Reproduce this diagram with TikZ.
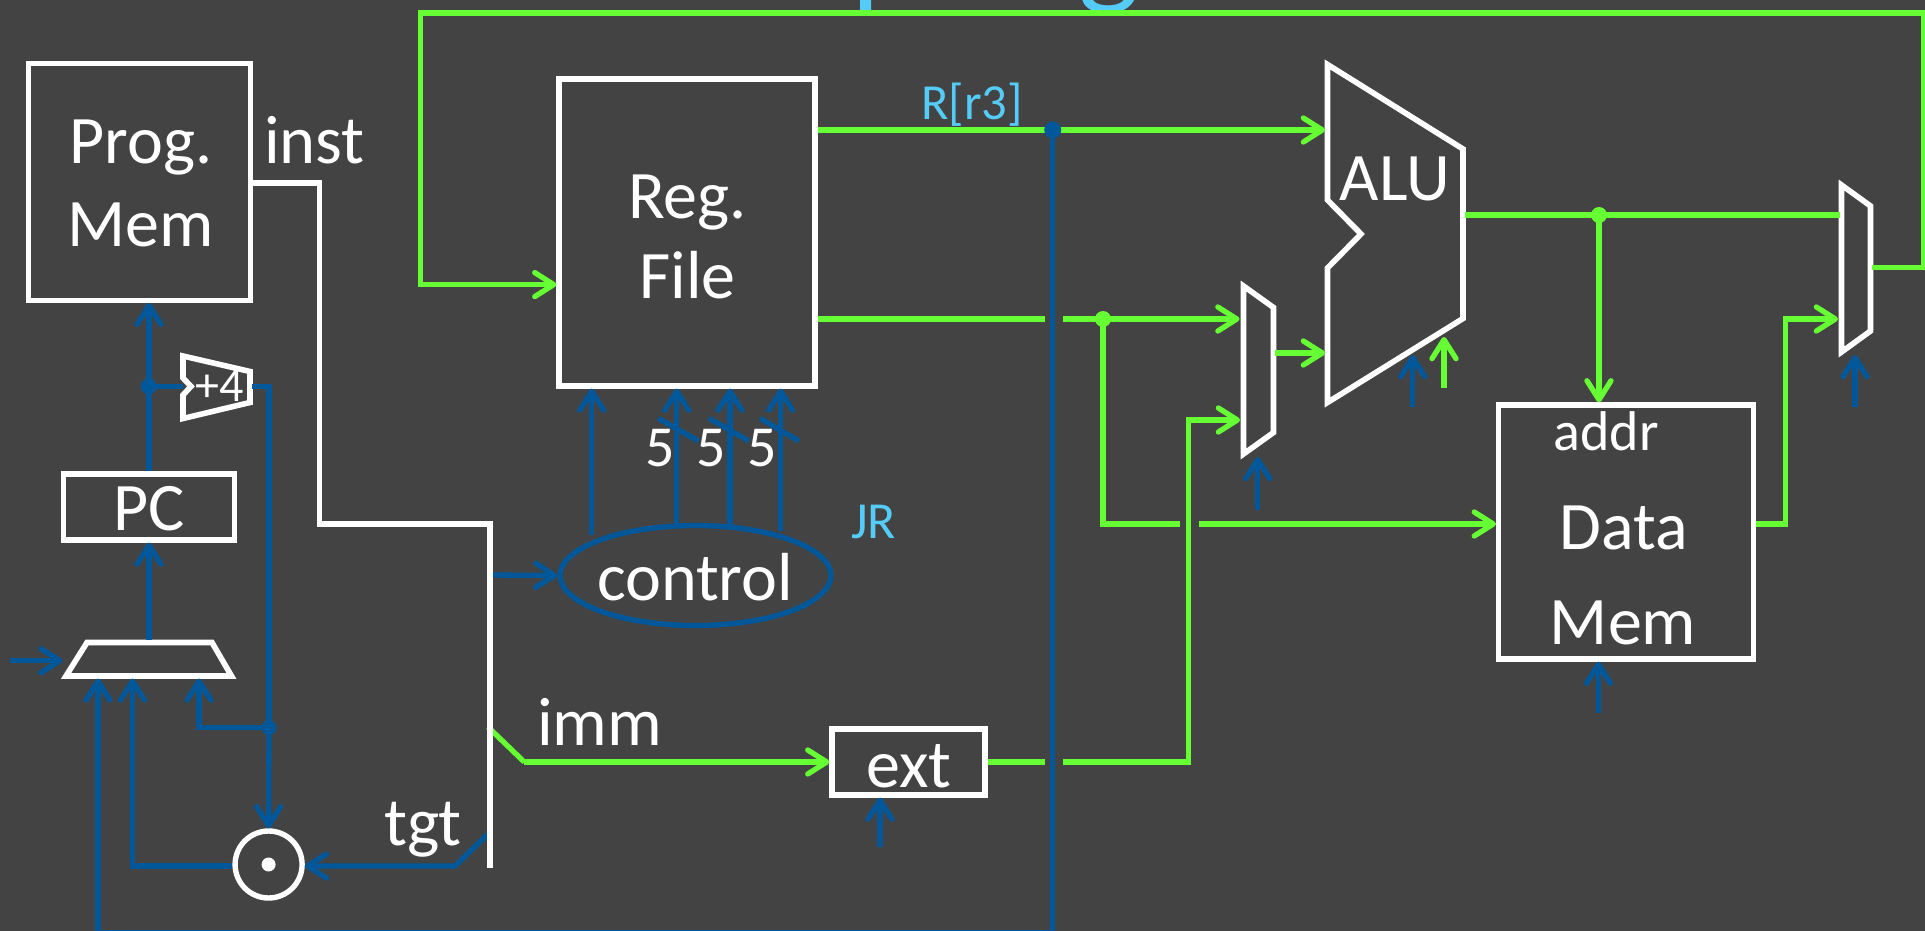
\documentclass[tikz,border=0pt]{standalone}
\usepackage{fontspec}
\setmainfont{Carlito}
\usetikzlibrary{arrows.meta,shapes.geometric}
\definecolor{bgc}{HTML}{434343}
\definecolor{grn}{HTML}{66FF33}
\definecolor{blu}{HTML}{00589A}
\definecolor{lbl}{HTML}{55CCF8}
\newcommand{\fs}[1]{\fontsize{#1}{#1}\selectfont}
\tikzset{
  x=1pt,y=-1pt,
  tip/.tip={Straight Barb[length=19pt,width=24pt,round]},
  wire/.style={line width=5.3pt,line join=miter},
  gw/.style={wire,draw=grn},
  bw/.style={wire,draw=blu},
  ww/.style={wire,draw=white},
  arr/.style={-{tip}},
  shp/.style={draw=white,line width=5.6pt,line join=miter,miter limit=10},
  boxn/.style={draw=white,line width=5.2pt,inner sep=0pt,rectangle,align=center},
  lab/.style={text=white,inner sep=0pt,anchor=base},
  blab/.style={text=lbl,inner sep=0pt,anchor=base},
  jb/.style={circle,fill=blu,inner sep=0pt,minimum size=16pt},
  jg/.style={circle,fill=grn,inner sep=0pt,minimum size=16pt},
}
\begin{document}
\begin{tikzpicture}
\useasboundingbox (0,0) rectangle (1925,931);
\fill[bgc] (0,0) rectangle (1925,931);
\clip (0,0) rectangle (1925,931);
% title fragments behind the top wire
\node[blab,font=\fs{130},anchor=base west] (tp) at (851,-8) {p};
\node[blab,font=\fs{130},anchor=base west] (tg) at (1078,-8) {g};
% boxes
\node[boxn,minimum width=222pt,minimum height=237pt] (pm) at (139.5,181.7) {};
\node[boxn,minimum width=171pt,minimum height=66pt] (pc) at (149,507) {};
\node[boxn,minimum width=256pt,minimum height=307pt] (rf) at (687,232.5) {};
\node[boxn,minimum width=255pt,minimum height=254pt] (dm) at (1626,532) {};
\node[boxn,minimum width=153pt,minimum height=66pt] (ext) at (908.5,762) {};
\node[ellipse,draw=blu,line width=5.3pt,inner sep=0pt,minimum width=271pt,minimum height=100pt] (ctl) at (695.5,575.5) {};
\node[circle,draw=white,line width=5.4pt,inner sep=0pt,minimum size=67pt] (dot) at (268.6,864.5) {};
\node[circle,fill=white,inner sep=0pt,minimum size=14pt] (dotc) at (268.6,864.5) {};
% odd shapes
\coordinate (addin) at (183,386.4);
\coordinate (addout) at (252,386.4);
\draw[shp] (183,356) -- (250,371.5) -- (250,402.5) -- (183,418.5) -- (183,395) -- (191,386.4) -- (183,378) -- cycle;
\draw[shp] (87,642.5) -- (212,642.5) -- (231.5,676) -- (66,676) -- cycle;
\draw[shp] (1243.5,286) -- (1273.5,307.5) -- (1273.5,432.5) -- (1243.5,454) -- cycle;
\draw[shp] (1841.5,185) -- (1870.5,206) -- (1870.5,331) -- (1841.5,352) -- cycle;
\draw[shp] (1327.5,64.5) -- (1463,149) -- (1463,318.5) -- (1327.5,402.5) -- (1327.5,268) -- (1361,234) -- (1327.5,200) -- cycle;
% named wire points
\coordinate (busA) at (319.3,183);
\coordinate (busB) at (319.3,524);
\coordinate (busC) at (490,524);
\coordinate (busD) at (490,868);
\coordinate (gx) at (1052.7,130);
\coordinate (gb) at (1052.7,935);
\coordinate (pcj) at (148.7,386.4);
\coordinate (aj) at (269,727.7);
% title-return wire
\draw[gw,arr] (1872,267.5) -- (1923.5,267.5) -- (1923.5,13) -- (420.7,13) -- (420.7,284.6) -- (rf.west |- 0,284.6);
% green datapath
\draw[gw,arr] (rf.east |- 0,130) -- (1325,130);
\draw[gw] (rf.east |- 0,319) -- (1045,319);
\draw[gw,arr] (1063,319) -- (1239.5,319);
\node[jg] (j1) at (1103,319) {};
\draw[gw] (j1.center) -- (1103,524) -- (1180,524);
\draw[gw,arr] (1199,524) -- (dm.west |- 0,524);
\draw[gw] (ext.east) -- (1045,762);
\draw[gw,arr] (1063,762) -- (1188.5,762) -- (1188.5,420) -- (1240,420);
\draw[gw,arr] (1275,353) -- (1325,353);
\draw[gw] (1465,215) -- (1840,215);
\node[jg] (j2) at (1599,215) {};
\draw[gw,arr] (j2.center) -- (dm.north -| j2);
\draw[gw,arr] (dm.east |- 0,524) -- (1785.7,524) -- (1785.7,319) -- (1838,319);
\draw[gw] (488,727) -- (524.3,762);
\draw[gw,arr] (524.3,762) -- (ext.west);
\draw[gw,arr] (1444,388) -- (1444,337);
% blue control wires
\draw[bw,arr] (pc.north) -- (pm.south -| pc.north);
\node[jb] (j3) at (pcj) {};
\draw[bw] (j3.center) -- (addin);
\draw[bw] (addout) -- (269,386.4) -- (aj);
\node[jb,minimum size=15pt] (j4) at (aj) {};
\draw[bw,arr] (j4.center) -- (dot.north);
\draw[bw,arr] (j4.center) -- (199,727.7) -- (199,678.5);
\draw[bw,arr] (dot.west |- 0,866) -- (132.5,866) -- (132.5,678.5);
\draw[bw,arr] (1052.7,932.9) -- (98,932.9) -- (98,678.5);
\draw[bw,arr] (149,640) -- (pc.south -| 149,0);
\draw[bw,arr] (10,660.7) -- (62.5,660.7);
\draw[bw,arr] (490,832) -- (455,866) -- (dot.east |- 0,866);
\draw[bw,arr] (492,575) -- (ctl.west);
\draw[bw,arr] (591.7,535) -- (rf.south -| 591.7,0);
\draw[bw,arr] (676.7,525) -- (rf.south -| 676.7,0);
\draw[bw,arr] (730,525) -- (rf.south -| 730,0);
\draw[bw,arr] (780.7,531) -- (rf.south -| 780.7,0);
\draw[bw] (658.3,418.3) -- (698.3,441);
\draw[bw] (709,418.3) -- (749,441);
\draw[bw] (760,418.3) -- (799,441);
\node[jb,minimum size=17pt] (j5) at (gx) {};
\draw[bw] (j5.center) -- (gb);
\draw[bw,arr] (1257.8,510) -- (1257.8,457);
\draw[bw,arr] (1412.7,407) -- (1412.7,355);
\draw[bw,arr] (1855,407) -- (1855,355);
\draw[bw,arr] (1598.5,713) -- (dm.south -| 1598.5,0);
\draw[bw,arr] (880,847) -- (ext.south -| 880,0);
% instruction bus
\draw[ww] (pm.east |- busA) -- (busA) -- (busB) -- (busC) -- (busD);
% labels
\node[lab,font=\fs{68}] (t1) at (141,163.6) {Prog.};
\node[lab,font=\fs{68}] (t2) at (141,246.4) {Mem};
\node[lab,font=\fs{68.5},anchor=base west] (t3) at (264,164) {inst};
\node[lab,font=\fs{68}] (t4) at (149,530) {PC};
\node[lab,font=\fs{48}] (t5) at (220,401) {+4};
\node[lab,font=\fs{68.5},anchor=base west] (t6) at (384,845) {tgt};
\node[lab,font=\fs{68.5},anchor=base west] (t7) at (537,745) {imm};
\node[lab,font=\fs{68}] (t8) at (687.5,218.5) {Reg.};
\node[lab,font=\fs{68}] (t9) at (687.5,298) {File};
\node[lab,font=\fs{68}] (t10) at (695,600) {control};
\node[lab,font=\fs{58}] (t11) at (660,466) {5};
\node[lab,font=\fs{58}] (t12) at (711,466) {5};
\node[lab,font=\fs{58}] (t13) at (762,466) {5};
\node[blab,font=\fs{52},anchor=base west] (t14) at (851,538) {JR};
\node[blab,font=\fs{50.5},anchor=base west] (t15) at (921,120) {R[r3]};
\node[lab,font=\fs{68}] (t16) at (1395,200) {ALU};
\node[lab,font=\fs{56}] (t17) at (1606,450) {addr};
\node[lab,font=\fs{68}] (t18) at (1624,549) {Data};
\node[lab,font=\fs{68}] (t19) at (1623,644.5) {Mem};
\node[lab,font=\fs{68}] (t20) at (909,787) {ext};
\end{tikzpicture}
\end{document}
